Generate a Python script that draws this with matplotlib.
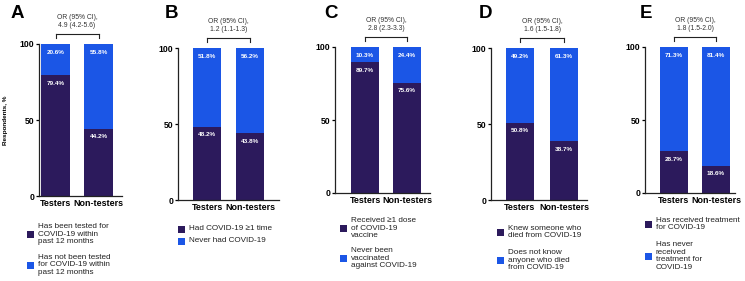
import matplotlib
matplotlib.use("Agg")
import matplotlib.pyplot as plt
from matplotlib.patches import Rectangle
from matplotlib.transforms import offset_copy

plt.rcParams['font.family'] = ['Liberation Sans', 'DejaVu Sans']

panel_letters = ["A", "B", "C", "D", "E"]
categories = ["Testers", "Non-testers"]
dark_testers = [79.4, 48.2, 89.7, 50.8, 28.7]
dark_nontesters = [44.2, 43.8, 75.6, 38.7, 18.6]
light_testers = [20.6, 51.8, 10.3, 49.2, 71.3]
light_nontesters = [55.8, 56.2, 24.4, 61.3, 81.4]
or_texts = ["OR (95% CI),\n4.9 (4.2-5.6)", "OR (95% CI),\n1.2 (1.1-1.3)",
            "OR (95% CI),\n2.8 (2.3-3.3)", "OR (95% CI),\n1.6 (1.5-1.8)",
            "OR (95% CI),\n1.8 (1.5-2.0)"]
legend_dark = ["Has been tested for\nCOVID-19 within\npast 12 months",
               "Had COVID-19 \u22651 time",
               "Received \u22651 dose\nof COVID-19\nvaccine",
               "Knew someone who\ndied from COVID-19",
               "Has received treatment\nfor COVID-19"]
legend_light = ["Has not been tested\nfor COVID-19 within\npast 12 months",
                "Never had COVID-19",
                "Never been\nvaccinated\nagainst COVID-19",
                "Does not know\nanyone who died\nfrom COVID-19",
                "Has never\nreceived\ntreatment for\nCOVID-19"]
yticks = [0, 50, 100]

DARK = "#2C1A5C"
BLUE = "#1B56E6"
INK = "#222222"

W, H = 745, 281
fig = plt.figure(figsize=(W / 100, H / 100), dpi=100)

# layout in pixels: spine x, right end, top(100), bottom(0), center0, center1
layout = [
    (39, 122, 44, 196, 55.5, 98.5),
    (178, 279, 48, 200, 207, 250),
    (335, 430, 47, 193, 365, 407),
    (491, 587, 48, 200, 520, 564),
    (645, 735, 47, 193, 674, 716),
]
letter_pos = [(17, 14), (172, 13), (331, 13), (486, 13), (646, 13)]
leg_sq_x = [27, 178, 340, 497, 645]
leg_y = [(234, 265), (229, 241), (228, 258), (232, 260), (224, 256)]


def fx(x):
    return x / W


def fy(y):
    return 1 - y / H


for i in range(5):
    sx, ex, ty, by, c0, c1 = layout[i]
    ax = fig.add_axes([fx(sx), fy(by), (ex - sx) / W, (by - ty) / H])
    unit = c1 - c0
    ax.set_xlim((sx - c0) / unit, (ex - c0) / unit)
    ax.set_ylim(0, 100)
    bw = 28.5 / unit
    xs = [0, 1]
    d = [dark_testers[i], dark_nontesters[i]]
    l = [light_testers[i], light_nontesters[i]]
    ax.bar(xs, d, width=bw, color=DARK, edgecolor='none')
    ax.bar(xs, l, width=bw, bottom=d, color=BLUE, edgecolor='none')
    for x, dv, lv in zip(xs, d, l):
        ax.annotate(f"{lv}%", (x, dv + lv), xytext=(0, -5.8), textcoords='offset points',
                    ha='center', va='center', color='white', fontsize=4.6, fontweight='bold')
        ax.annotate(f"{dv}%", (x, dv), xytext=(0, -5.8), textcoords='offset points',
                    ha='center', va='center', color='white', fontsize=4.6, fontweight='bold')
    for s in ['top', 'right']:
        ax.spines[s].set_visible(False)
    for s in ['left', 'bottom']:
        ax.spines[s].set_linewidth(0.9)
        ax.spines[s].set_color(INK)
    ax.set_yticks(yticks)
    ax.set_yticklabels([str(t) for t in yticks], fontsize=6.2, fontweight='bold')
    ax.set_xticks(xs)
    ax.set_xticklabels(categories, fontsize=6.4, fontweight='bold')
    ax.tick_params(axis='y', length=2.5, width=0.9, pad=1)
    ax.tick_params(axis='x', length=0, pad=2)

    # bracket with OR text
    trans = ax.transData
    tr_top = offset_copy(trans, fig=fig, y=7.2, units='points')
    tr_tick = offset_copy(trans, fig=fig, y=4.3, units='points')
    ax.plot([0, 1], [100, 100], color=INK, lw=0.8, transform=tr_top, clip_on=False)
    for x in xs:
        ax.plot([x, x], [100, 100], color=INK, lw=0.8, transform=tr_top, clip_on=False)
    for cx in [c0, c1]:
        fig.add_artist(plt.Line2D([fx(cx), fx(cx)], [fy(ty - 10), fy(ty - 6)],
                                  color=INK, lw=0.8))
    ax.text(0.5, 100, or_texts[i], transform=offset_copy(trans, fig=fig, y=16, units='points'),
            ha='center', va='center', fontsize=4.9, color='#333333', linespacing=1.15)
    if i == 0:
        ax.set_ylabel("Respondents, %", fontsize=4.6, fontweight='bold', labelpad=8)

    fig.text(fx(letter_pos[i][0]), fy(letter_pos[i][1]), panel_letters[i],
             fontsize=13.5, fontweight='bold', ha='center', va='center')

    # legend
    sqx = leg_sq_x[i]
    for lab, col, yc in [(legend_dark[i], DARK, leg_y[i][0]), (legend_light[i], BLUE, leg_y[i][1])]:
        fig.add_artist(Rectangle((fx(sqx), fy(yc + 3.5)), 7 / W, 7 / H,
                                 transform=fig.transFigure, facecolor=col, edgecolor='none'))
        fig.text(fx(sqx + 11), fy(yc), lab, fontsize=5.9, ha='left', va='center',
                 color=INK, linespacing=1.15)

fig.savefig("out.png", dpi=100)
